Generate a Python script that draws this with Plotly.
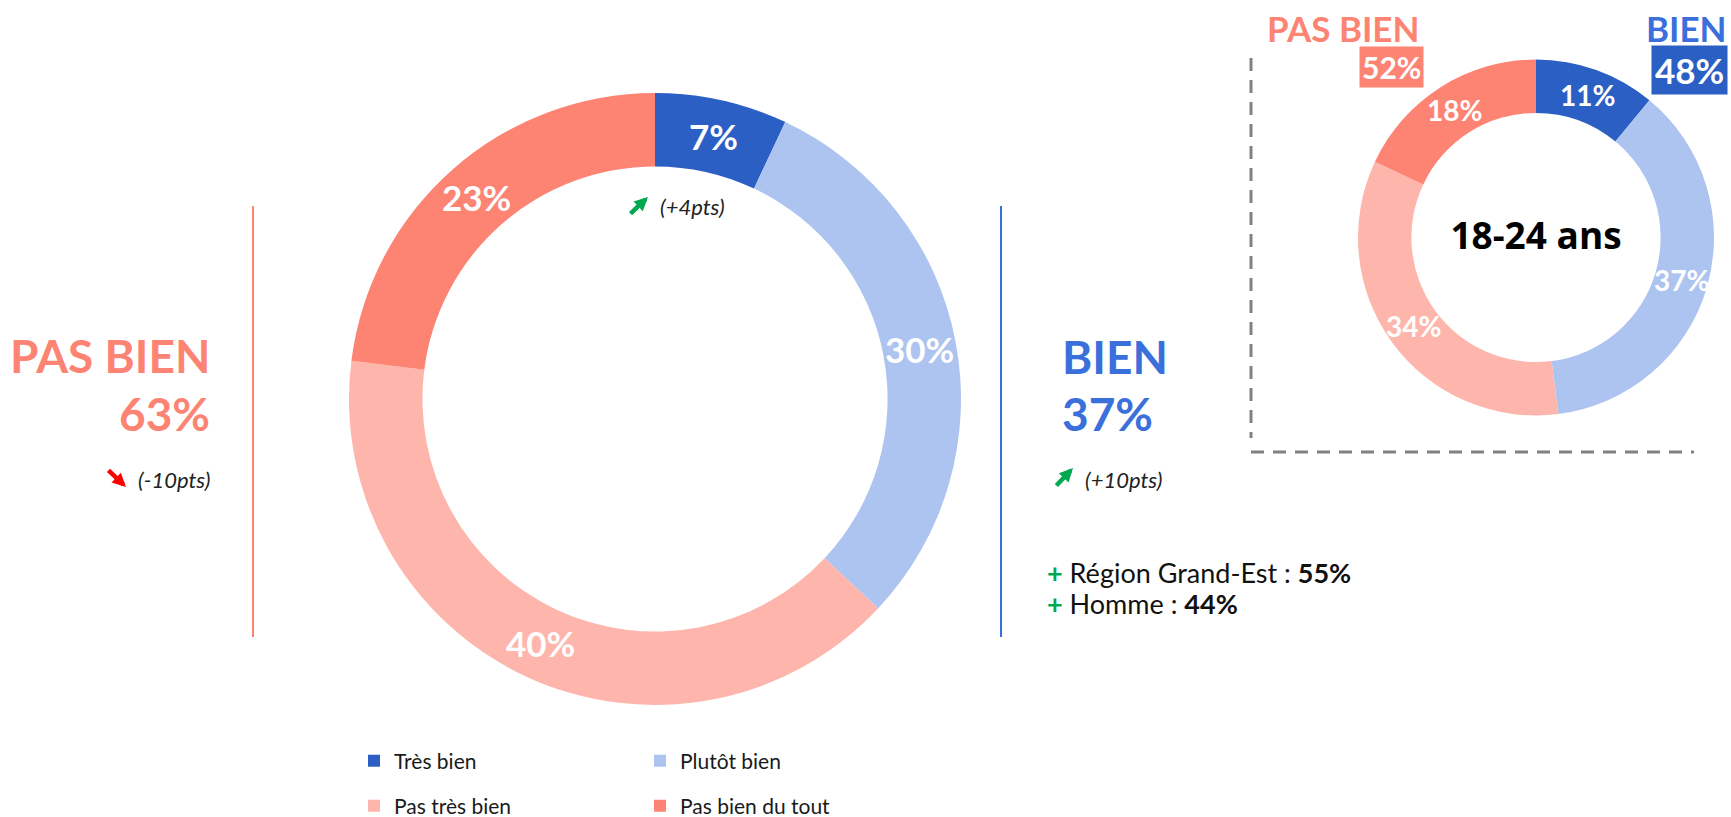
import math
import plotly.graph_objects as go

# ---------------- data ----------------
labels = ["Très bien", "Plutôt bien", "Pas très bien", "Pas bien du tout"]
colors = ["#2C5FC4", "#AEC4F0", "#FEB5AB", "#FD8373"]
values_all = [7, 30, 40, 23]          # ensemble
values_young = [11, 37, 34, 18]       # 18-24 ans
young_title = "18-24 ans"
evol_tres_bien = "+4pts"
evol_pas_bien = "-10pts"
evol_bien = "+10pts"
sub_groups = ["Région Grand-Est", "Homme"]
sub_values = [55, 44]

W, H = 1731, 817
SALMON = "#FD8373"
BLUE_TXT = "#3A6FDC"
DARK_BLUE = "#2C5FC4"
GREEN = "#00A84F"
RED = "#FF0000"
FONT = "Lato"


def px(x):
    return x / W


def py(y):
    return 1 - y / H


def dom(cx, cy, r):
    return dict(x=[px(cx - r), px(cx + r)], y=[py(cy + r), py(cy - r)])


bien_all = values_all[0] + values_all[1]
pas_bien_all = values_all[2] + values_all[3]
bien_young = values_young[0] + values_young[1]
pas_bien_young = values_young[2] + values_young[3]

MAIN = dict(cx=655, cy=399, r=306, hole=0.76, fs=35)
SMALL = dict(cx=1536, cy=237.5, r=178, hole=0.70, fs=28)

fig = go.Figure()
annotations = []


def slice_labels(values, g):
    """Horizontal value labels at the middle of each ring segment (from the data)."""
    total = sum(values)
    rmid = g["r"] * (1 + g["hole"]) / 2
    cum = 0
    for v in values:
        a = 2 * math.pi * (cum + v / 2) / total
        cum += v
        x = g["cx"] + rmid * math.sin(a)
        y = g["cy"] - rmid * math.cos(a)
        annotations.append(dict(
            text=f"<b>{v}%</b>", x=px(x), y=py(y), xref="paper", yref="paper",
            xanchor="center", yanchor="middle", showarrow=False,
            font=dict(family=FONT, size=g["fs"], color="white")))


for vals, g, title in [(values_all, MAIN, None), (values_young, SMALL, young_title)]:
    kw = {}
    if title:
        kw["title"] = dict(text="<b>" + title + "</b>", position="middle center",
                           font=dict(family="Open Sans", size=37, color="black"))
    fig.add_trace(go.Pie(
        labels=labels, values=vals, sort=False, direction="clockwise", rotation=0,
        hole=g["hole"], domain=dom(g["cx"], g["cy"], g["r"]),
        marker=dict(colors=colors, line=dict(width=0)),
        textinfo="none", showlegend=False, hoverinfo="label+value", **kw,
    ))
    slice_labels(vals, g)

# legend entries (two rows of two)
for i, (lab, col) in enumerate(zip(labels, colors)):
    fig.add_trace(go.Scatter(
        x=[None], y=[None], mode="markers", name=lab,
        marker=dict(symbol="square", size=12, color=col),
        legend="legend" if i < 2 else "legend2", showlegend=True,
    ))

leg_common = dict(orientation="h", xanchor="left", yanchor="middle",
                  font=dict(family=FONT, size=21, color="#1a1a1a"),
                  entrywidth=241, entrywidthmode="pixels",
                  bgcolor="rgba(0,0,0,0)", borderwidth=0, itemsizing="constant")


def ann(text, x, y, xanchor, size, color, bold=False, italic=False, bg=None,
        family=FONT, pad=1):
    if bold:
        text = "<b>" + text + "</b>"
    if italic:
        text = "<i>" + text + "</i>"
    d = dict(text=text, x=px(x), y=py(y), xref="paper", yref="paper",
             xanchor=xanchor, yanchor="middle", showarrow=False,
             font=dict(family=family, size=size, color=color), borderpad=pad)
    if bg:
        d["bgcolor"] = bg
    annotations.append(d)


def arrow(tip_x, tip_y, tail_x, tail_y, color):
    annotations.append(dict(
        text="", x=px(tip_x), y=py(tip_y), xref="paper", yref="paper",
        ax=tail_x - tip_x, ay=tail_y - tip_y, showarrow=True,
        arrowhead=2, arrowsize=0.6, arrowwidth=4.5, arrowcolor=color, standoff=0))


# left block (PAS BIEN)
ann("PAS BIEN", 212, 355, "right", 46, SALMON, bold=True)
ann(f"{pas_bien_all}%", 212, 413, "right", 46, SALMON, bold=True)
ann(f"({evol_pas_bien})", 212, 479, "right", 22, "#222222", italic=True)
arrow(126, 487, 107, 469, RED)

# right block (BIEN)
ann("BIEN", 1060, 356, "left", 46, BLUE_TXT, bold=True)
ann(f"{bien_all}%", 1060, 413, "left", 46, BLUE_TXT, bold=True)
ann(f"({evol_bien})", 1083, 479, "left", 22, "#222222", italic=True)
arrow(1073, 468, 1055, 487, GREEN)
for j, (g, v) in enumerate(zip(sub_groups, sub_values)):
    ann(f'<span style="color:{GREEN}"><b>+</b></span> {g} : <b>{v}%</b>',
        1045, 572 + 31 * j, "left", 27, "#111111")

# evolution of "Très bien"
ann(f"({evol_tres_bien})", 658, 206, "left", 22, "#222222", italic=True)
arrow(648, 197, 629, 215, GREEN)

# small donut headers
ann("PAS BIEN", 1343, 28, "center", 35, SALMON, bold=True)
ann(f"{pas_bien_young}%", 1391, 67, "center", 30, "white", bold=True, bg=SALMON, pad=2)
ann("BIEN", 1729, 28, "right", 35, BLUE_TXT, bold=True)
ann(f"{bien_young}%", 1689, 70, "center", 35, "white", bold=True, bg=DARK_BLUE, pad=3)

shapes = [
    dict(type="line", xref="paper", yref="paper", x0=px(253), x1=px(253), y0=py(206), y1=py(637),
         line=dict(color=SALMON, width=2)),
    dict(type="line", xref="paper", yref="paper", x0=px(1001), x1=px(1001), y0=py(206), y1=py(637),
         line=dict(color=BLUE_TXT, width=2)),
    dict(type="line", xref="paper", yref="paper", x0=px(1251), x1=px(1251), y0=py(58), y1=py(438),
         line=dict(color="#808285", width=3, dash="13px,9px")),
    dict(type="line", xref="paper", yref="paper", x0=px(1251), x1=px(1694), y0=py(452), y1=py(452),
         line=dict(color="#808285", width=3, dash="13px,9px")),
]

fig.update_layout(
    width=W, height=H, autosize=False,
    margin=dict(l=0, r=0, t=0, b=0, autoexpand=False),
    paper_bgcolor="white", plot_bgcolor="white",
    xaxis=dict(visible=False), yaxis=dict(visible=False),
    showlegend=True,
    legend=dict(x=px(354), y=py(761), **leg_common),
    legend2=dict(x=px(354), y=py(806), **leg_common),
    annotations=annotations, shapes=shapes,
)

# the page body has a default 8px margin; remove it so the figure fills the window
fig.write_html("out.html", config={"displayModeBar": False},
               post_script="document.body.style.margin='0px';")
